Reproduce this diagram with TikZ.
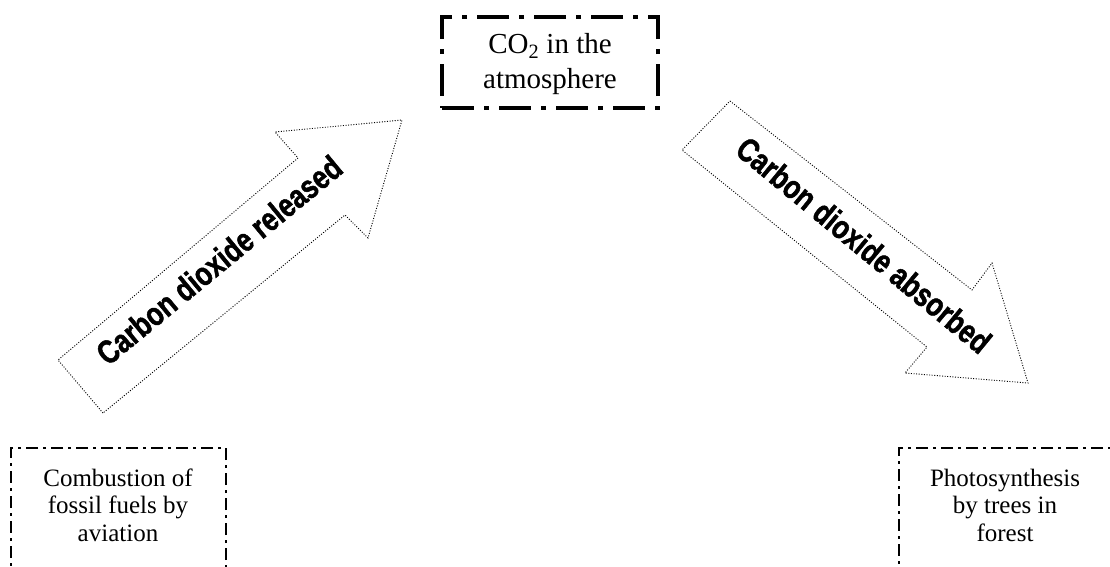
\documentclass[tikz,border=0pt]{standalone}
\usepackage{fontspec}
\setmainfont{Liberation Serif}
\newfontfamily\wordart{Liberation Sans Bold}[FakeBold=1.6]
\usetikzlibrary{fit}
\newcommand{\wa}[1]{\scalebox{0.8}[1]{#1}}
\tikzset{
  topbox/.style={draw, line width=4pt, dash pattern=on 32pt off 10pt on 5pt off 10pt, inner sep=0pt},
  lowbox/.style={draw, line width=2pt, dash pattern=on 12pt off 5pt on 3pt off 5pt, inner sep=0pt},
  toptext/.style={align=center, font=\fontsize{29}{35}\selectfont, inner sep=0pt},
  lowtext/.style={align=center, font=\fontsize{25}{27.5}\selectfont, inner sep=0pt},
  bigarrow/.style={draw, line width=0.9pt, dash pattern=on 1pt off 1.6pt, line join=miter},
  arrowtext/.style={font=\wordart\fontsize{33}{33}\selectfont, inner sep=0pt}
}
\begin{document}
\begin{tikzpicture}[x=1pt,y=-1pt]
\useasboundingbox (0,0) rectangle (1110,566);
\clip (0,0) rectangle (1110,566);

% top box
\coordinate (tbA) at (442,17);
\coordinate (tbB) at (658,108);
\node[topbox, fit=(tbA)(tbB)] (co2box) {};
\node[toptext] (co2) at (550,64) {CO\textsubscript{2} in the\\atmosphere};

% bottom-left box
\coordinate (lbA) at (11,448);
\coordinate (lbB) at (226,620);
\node[lowbox, fit=(lbA)(lbB)] (combbox) {};
\node[lowtext] (comb) at (118,505) {Combustion of\\fossil fuels by\\aviation};

% bottom-right box
\coordinate (rbA) at (899,448);
\coordinate (rbB) at (1140,620);
\node[lowbox, fit=(rbA)(rbB)] (photobox) {};
\node[lowtext] (photo) at (1005,505) {Photosynthesis\\by trees in\\forest};

% left arrow (up-right)
\draw[bigarrow] (103,413) -- (58,360) -- (298,158) -- (275,132) -- (402,120)
  -- (368,238) -- (345,215) -- cycle;
\node[arrowtext, rotate=39.5] (rel) at (219,260) {\wa{Carbon dioxide released}};

% right arrow (down-right)
\draw[bigarrow] (730,101) -- (972,290) -- (992,263) -- (1028,383) -- (905,373)
  -- (927,347) -- (682,150) -- cycle;
\node[arrowtext, rotate=-39.5] (abs) at (864,245) {\wa{Carbon dioxide absorbed}};
\end{tikzpicture}
\end{document}
